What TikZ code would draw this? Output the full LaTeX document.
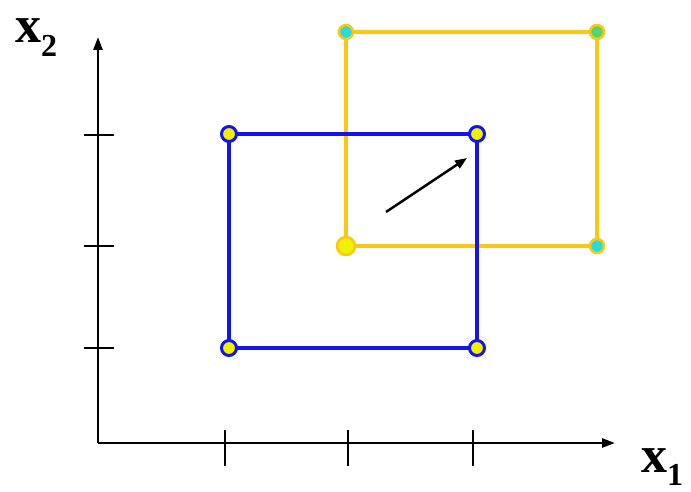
\documentclass[tikz,border=0pt]{standalone}
\usepackage{fontspec}
\setmainfont{Liberation Serif}
\usetikzlibrary{arrows.meta}
\definecolor{rblue}{RGB}{20,20,240}
\definecolor{ryel}{RGB}{250,200,20}
\definecolor{rcyan}{RGB}{40,220,220}
\definecolor{rgreen}{RGB}{90,210,110}
\definecolor{ryfill}{RGB}{240,240,0}
\tikzset{
  axis/.style={line width=2.6pt,-{Triangle[length=13pt,width=9pt]}},
  tickmark/.style={line width=1.4pt},
  bluebox/.style={draw=rblue,line width=3.8pt},
  yelbox/.style={draw=ryel,line width=3.6pt},
  bluecorner/.style={circle,draw=rblue,fill=ryfill,line width=3pt,minimum size=15pt,inner sep=0pt},
  yelcorner/.style={circle,fill=#1,draw=ryel,line width=2.5pt,minimum size=14pt,inner sep=0pt},
  lab/.style={font=\fontsize{52}{52}\selectfont\bfseries,inner sep=0pt}
}
\begin{document}
\begin{tikzpicture}[x=1pt,y=-1pt]
\useasboundingbox (0,0) rectangle (691,492);
\coordinate (O) at (98,443);
\coordinate (Ytop) at (98,37);
\coordinate (Xend) at (615,443);
\draw[axis] (O) -- (Ytop);
\draw[axis] (O) -- (Xend);
% ticks
\foreach \y/\n in {135/a,246/b,348/c}{
  \coordinate (yl\n) at (84,\y); \coordinate (yr\n) at (114,\y);
  \draw[tickmark] (yl\n) -- (yr\n);}
\foreach \x/\n in {225/a,348/b,473/c}{
  \coordinate (xt\n) at (\x,430); \coordinate (xb\n) at (\x,466);
  \draw[tickmark] (xt\n) -- (xb\n);}
% yellow rectangle
\coordinate (Y1) at (346,32);
\coordinate (Y2) at (597,32);
\coordinate (Y3) at (597,246);
\coordinate (Y4) at (346,246);
\draw[yelbox] (Y1) -- (Y2) -- (Y3) -- (Y4) -- cycle;
\node[yelcorner=rcyan] (cy1) at (Y1) {};
\node[yelcorner=rgreen] (cy2) at (Y2) {};
\node[yelcorner=rcyan] (cy3) at (Y3) {};
\node[circle,fill=ryfill,draw=ryel,line width=2.5pt,minimum size=18pt,inner sep=0pt] (cy4) at (Y4) {};
% blue rectangle
\coordinate (B1) at (229,134);
\coordinate (B2) at (477,134);
\coordinate (B3) at (477,348);
\coordinate (B4) at (229,348);
\draw[bluebox] (B1) -- (B2) -- (B3) -- (B4) -- cycle;
\node[bluecorner] (cb1) at (B1) {};
\node[bluecorner] (cb2) at (B2) {};
\node[bluecorner] (cb3) at (B3) {};
\node[bluecorner] (cb4) at (B4) {};
% arrow
\coordinate (As) at (386,212);
\coordinate (Ae) at (467,158);
\draw[line width=2.4pt,-{Triangle[length=12pt,width=9pt]}] (As) -- (Ae);
% labels
\node[lab,anchor=base west] (lx2) at (15,43) {x\raisebox{-14pt}{\fontsize{32}{32}\selectfont 2}};
\node[lab,anchor=base west] (lx1) at (641,472) {x\raisebox{-13pt}{\fontsize{32}{32}\selectfont 1}};
\end{tikzpicture}
\end{document}
